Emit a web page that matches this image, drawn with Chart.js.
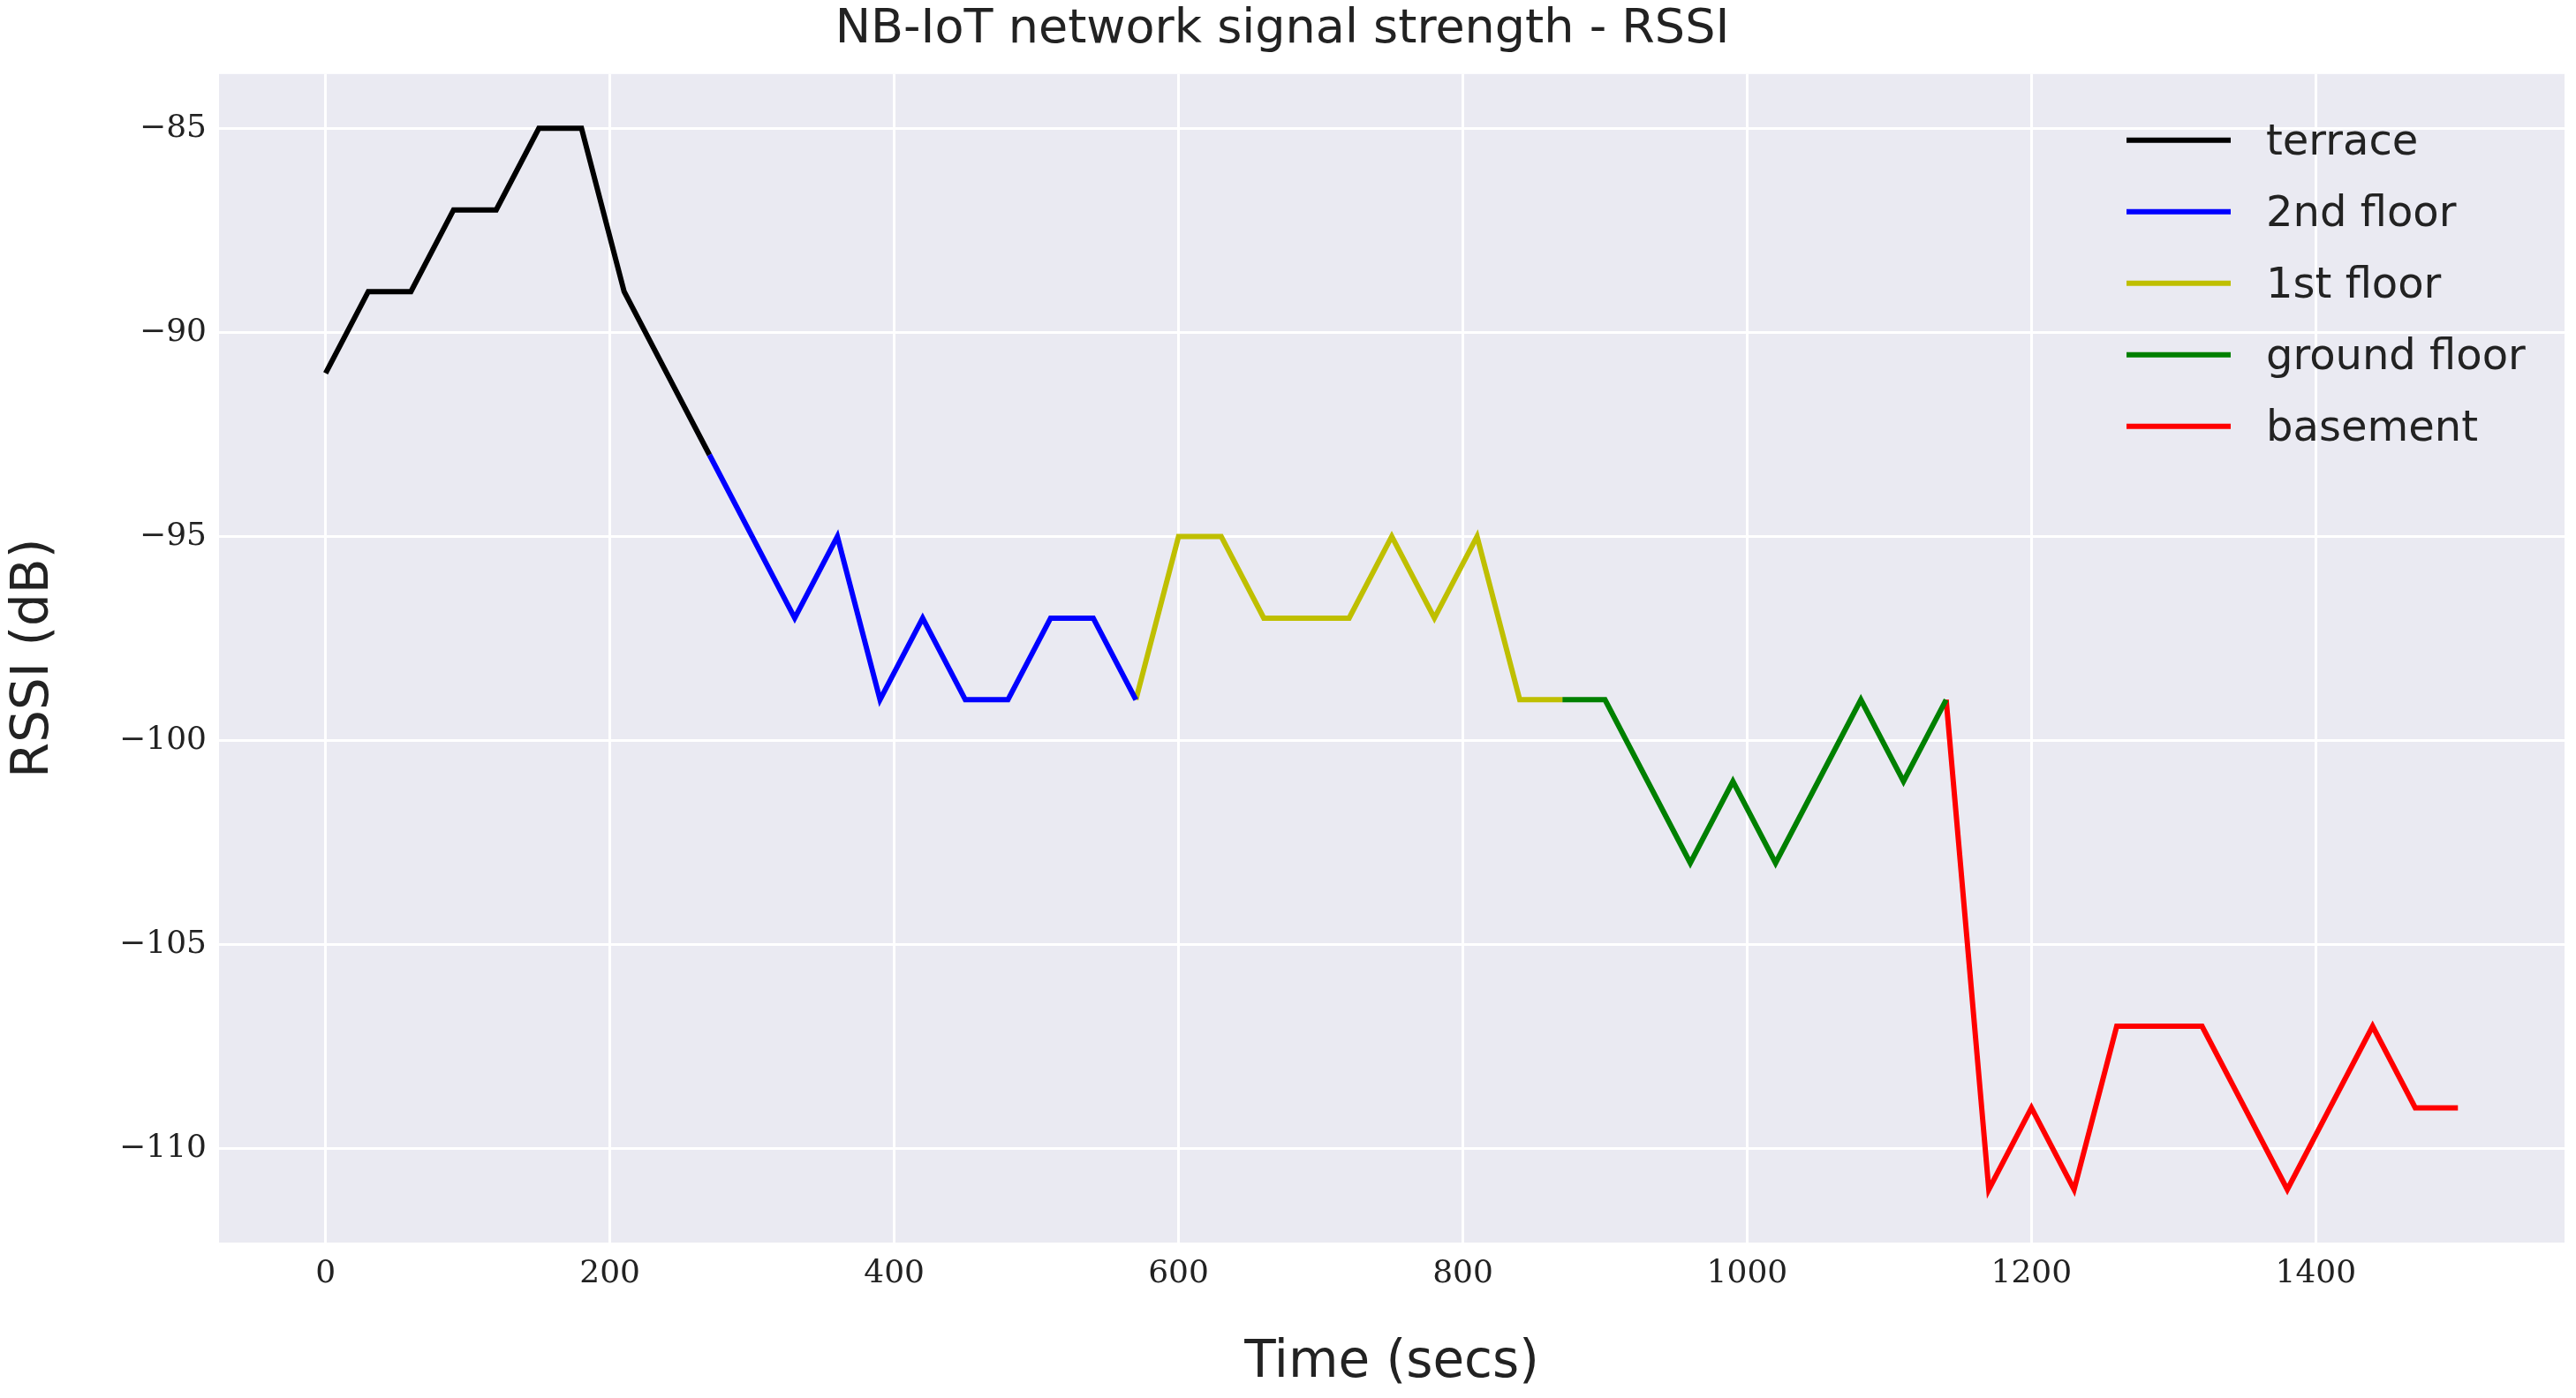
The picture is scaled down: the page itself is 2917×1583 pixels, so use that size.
<!DOCTYPE html>
<html>
<head>
<meta charset="utf-8">
<script src="https://cdn.jsdelivr.net/npm/chart.js@4/dist/chart.umd.min.js"></script>
<style>
  body { margin: 0; background: #fff; }
  #wrap { width: 2917px; height: 1583px; }
</style>
</head>
<body>
<div id="wrap"><canvas id="rssiChart"></canvas></div>
<script>
const seriesNames = ['terrace', '2nd floor', '1st floor', 'ground floor', 'basement'];
const seriesColors = ['#000000', '#0000ff', '#bfbf00', '#008000', '#ff0000'];

const terraceTime = [0, 30, 60, 90, 120, 150, 180, 210, 240, 270];
const terraceRssi = [-91, -89, -89, -87, -87, -85, -85, -89, -91, -93];

const floor2Time = [270, 300, 330, 360, 390, 420, 450, 480, 510, 540, 570];
const floor2Rssi = [-93, -95, -97, -95, -99, -97, -99, -99, -97, -97, -99];

const floor1Time = [570, 600, 630, 660, 690, 720, 750, 780, 810, 840, 870];
const floor1Rssi = [-99, -95, -95, -97, -97, -97, -95, -97, -95, -99, -99];

const groundTime = [870, 900, 930, 960, 990, 1020, 1050, 1080, 1110, 1140];
const groundRssi = [-99, -99, -101, -103, -101, -103, -101, -99, -101, -99];

const basementTime = [1140, 1170, 1200, 1230, 1260, 1290, 1320, 1350, 1380, 1410, 1440, 1470, 1500];
const basementRssi = [-99, -111, -109, -111, -107, -107, -107, -109, -111, -109, -107, -109, -109];

const xTicks = [0, 200, 400, 600, 800, 1000, 1200, 1400];
const yTicks = [-85, -90, -95, -100, -105, -110];

const allTimes = [terraceTime, floor2Time, floor1Time, groundTime, basementTime];
const allRssi = [terraceRssi, floor2Rssi, floor1Rssi, groundRssi, basementRssi];

const datasets = seriesNames.map((name, i) => ({
  label: name,
  data: allTimes[i].map((t, j) => ({ x: t, y: allRssi[i][j] })),
  borderColor: seriesColors[i],
  borderWidth: 6,
  pointRadius: 0,
  fill: false,
  tension: 0,
}));

// plot background + legend drawn inside the chart area
const bgAndLegend = {
  id: 'bgAndLegend',
  beforeDraw(chart) {
    const { ctx, chartArea: a } = chart;
    ctx.save();
    ctx.fillStyle = '#eaeaf2';
    ctx.fillRect(a.left, a.top, a.right - a.left, a.bottom - a.top);
    ctx.restore();
  },
  afterDraw(chart) {
    const { ctx, chartArea: a } = chart;
    ctx.save();
    ctx.font = '48px "DejaVu Sans"';
    ctx.textBaseline = 'middle';
    chart.data.datasets.forEach((ds, i) => {
      const y = a.top + 75 + i * 81;
      const x0 = a.left + 2160;
      ctx.strokeStyle = ds.borderColor;
      ctx.lineWidth = 6;
      ctx.beginPath();
      ctx.moveTo(x0, y);
      ctx.lineTo(x0 + 118, y);
      ctx.stroke();
      ctx.fillStyle = '#222';
      ctx.fillText(ds.label, x0 + 158, y + 4);
    });
    ctx.restore();
  }
};

new Chart(document.getElementById('rssiChart'), {
  type: 'line',
  data: { datasets },
  plugins: [bgAndLegend],
  options: {
    responsive: true,
    maintainAspectRatio: false,
    devicePixelRatio: 1,
    animation: false,
    layout: { padding: { left: 0, right: 13, top: 0, bottom: 0 } },
    plugins: {
      legend: { display: false },
      tooltip: { enabled: false },
      title: {
        display: true,
        text: 'NB-IoT network signal strength - RSSI',
        color: '#222',
        font: { family: 'DejaVu Sans', size: 54, weight: 'normal' },
        padding: { top: 2, bottom: 17 },
      },
    },
    scales: {
      x: {
        type: 'linear',
        min: -75,
        max: 1575,
        afterBuildTicks: s => { s.ticks = xTicks.map(v => ({ value: v })); },
        afterFit: s => { s.height = 176; },
        grid: { color: '#ffffff', lineWidth: 3, drawTicks: false },
        border: { display: false },
        ticks: { color: '#222', font: { family: 'DejaVu Serif', size: 36 }, padding: 14, callback: v => String(v) },
        title: { display: true, text: 'Time (secs)', color: '#222', font: { family: 'DejaVu Sans', size: 58 }, padding: { top: 0 } },
      },
      y: {
        min: -112.3,
        max: -83.67,
        afterBuildTicks: s => { s.ticks = yTicks.map(v => ({ value: v })); },
        afterFit: s => { s.width = 248; },
        grid: { color: '#ffffff', lineWidth: 3, drawTicks: false },
        border: { display: false },
        ticks: {
          color: '#222',
          font: { family: 'DejaVu Serif', size: 36 },
          padding: 14,
          callback: v => (v < 0 ? '\u2212' + Math.abs(v) : v),
        },
        title: { display: true, text: 'RSSI (dB)', color: '#222', font: { family: 'DejaVu Sans', size: 58 } },
      },
    },
  },
});
</script>
</body>
</html>
